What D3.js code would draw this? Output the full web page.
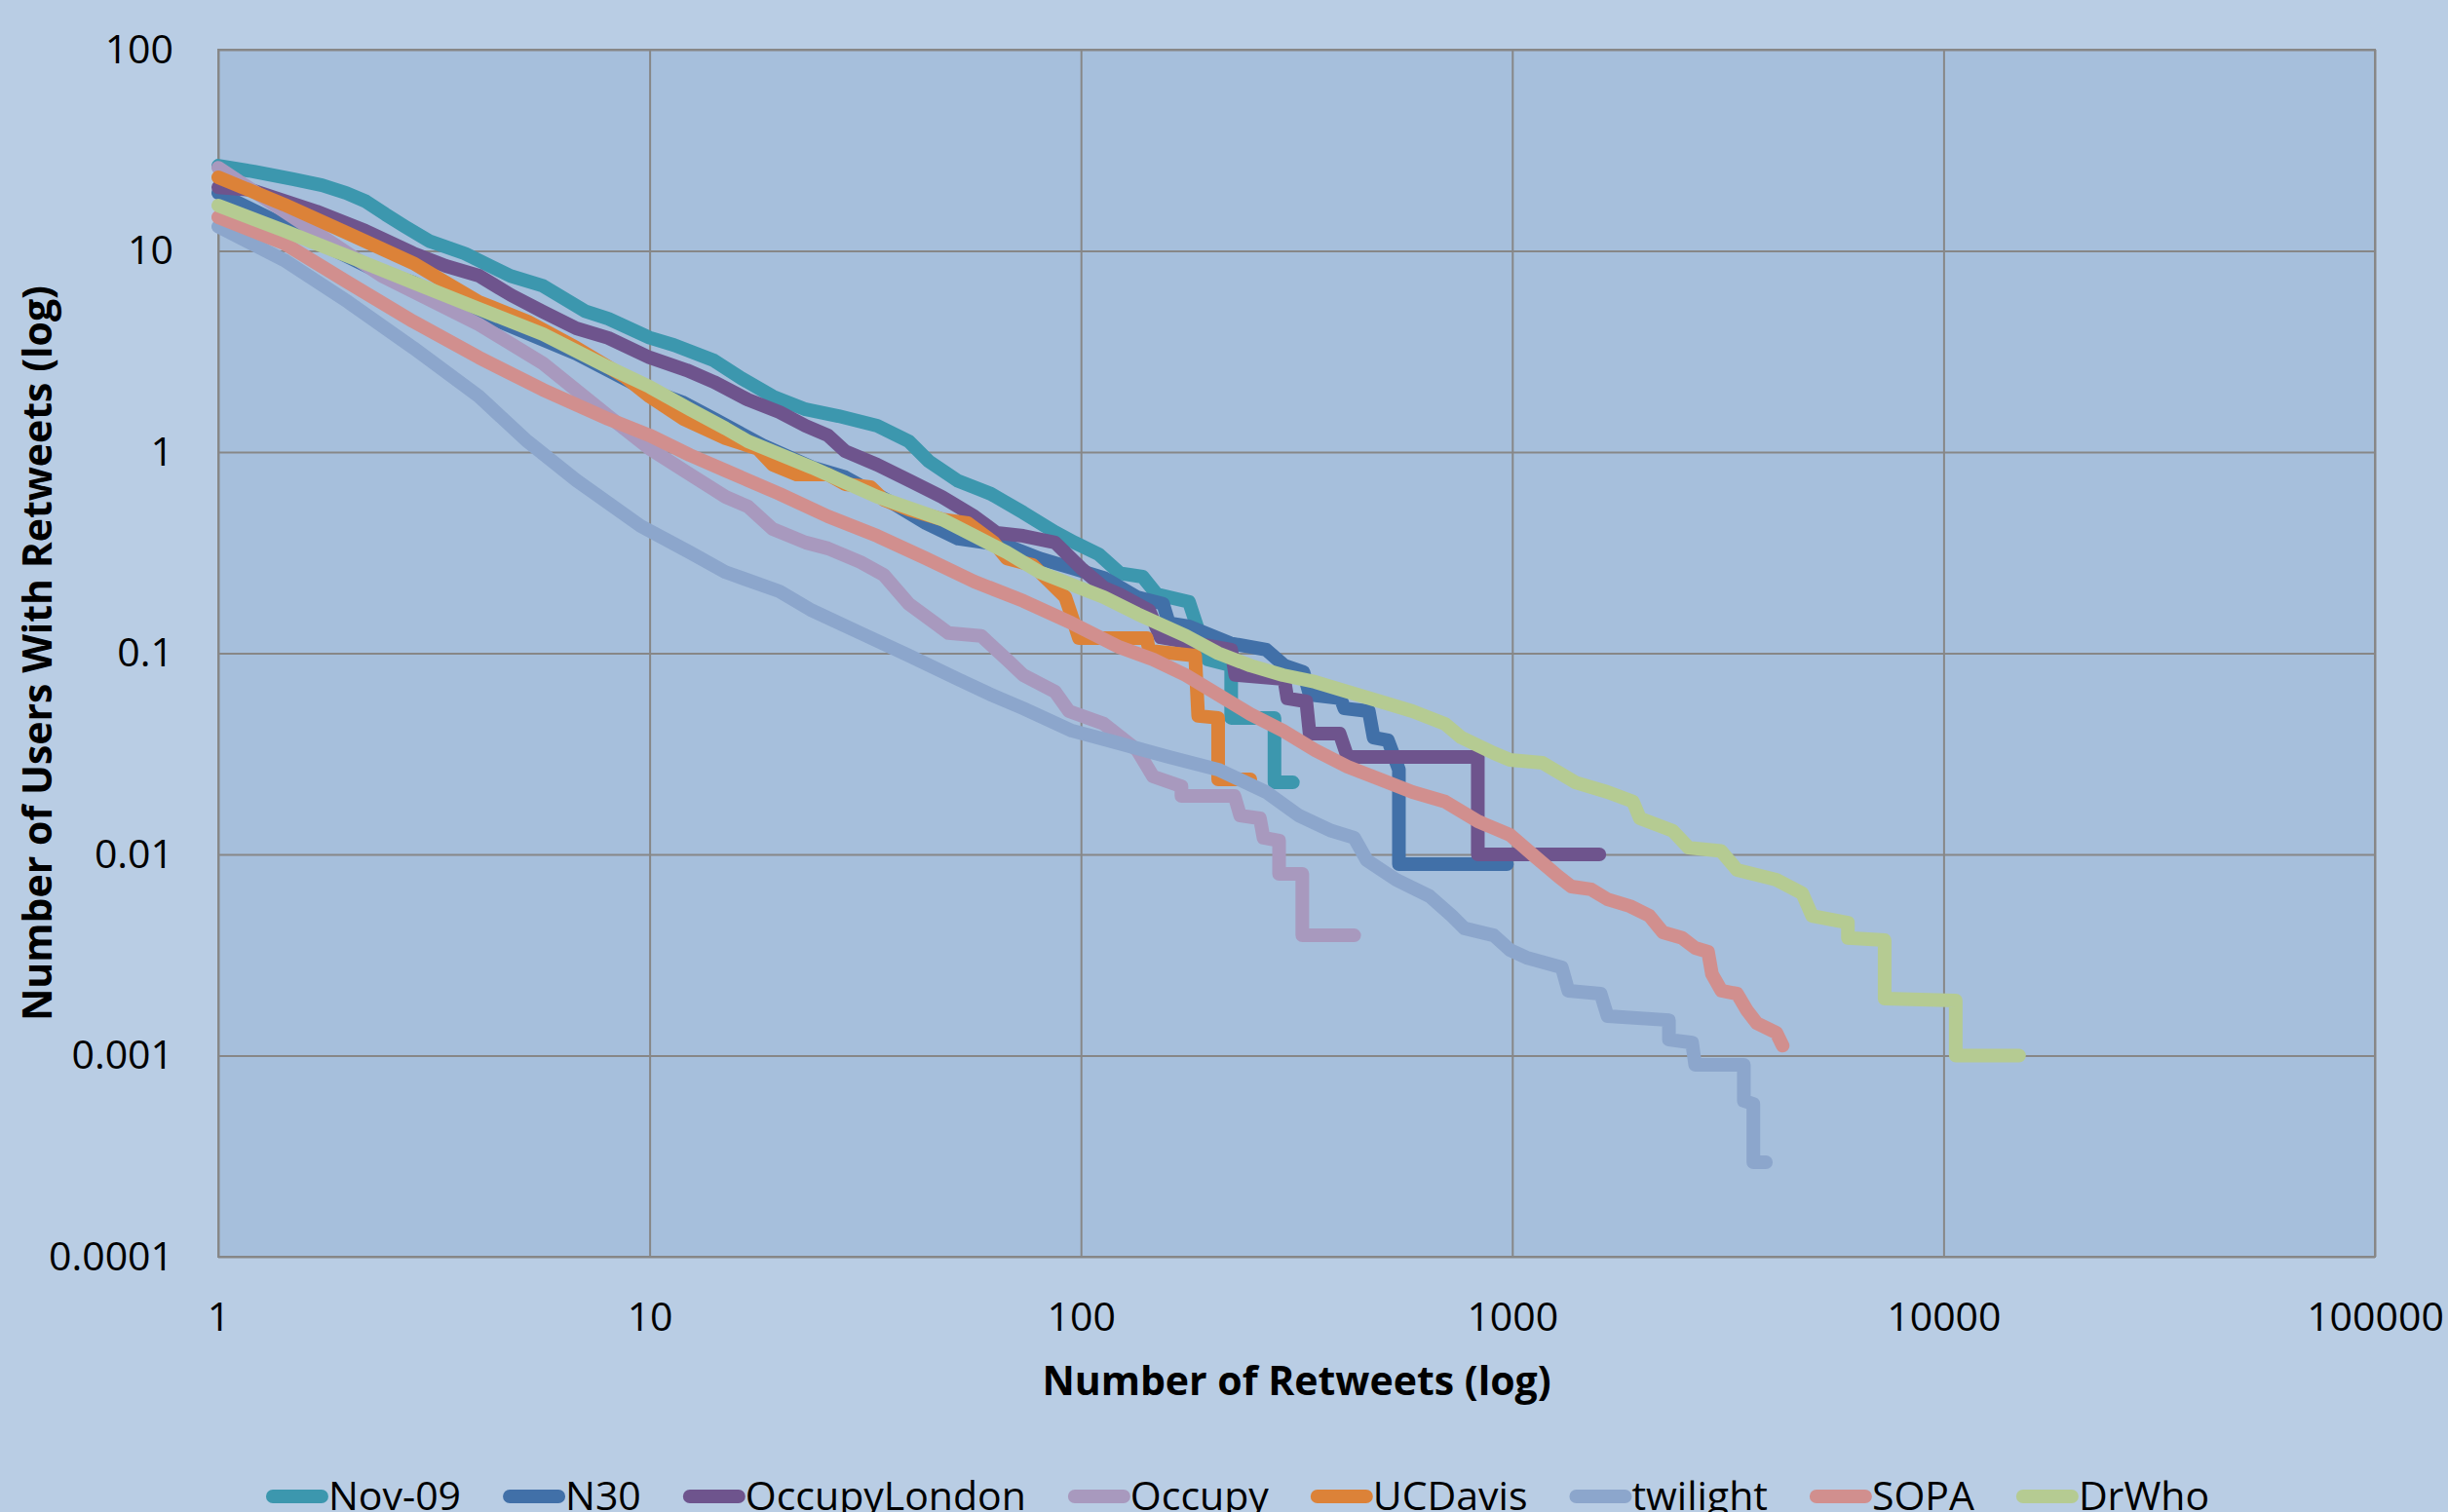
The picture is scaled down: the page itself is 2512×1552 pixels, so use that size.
<!DOCTYPE html>
<html>
<head>
<meta charset="utf-8">
<script src="https://cdnjs.cloudflare.com/ajax/libs/d3/7.8.5/d3.min.js"></script>
<style>
  body { margin: 0; background: #b9cde4; }
  svg text { font-family: "Open Sans", "Liberation Sans", sans-serif; fill: #000; }
</style>
</head>
<body>
<script>

// share of users (%) with at least x retweets
var nov09 = [
    [1, 26.5], [1.21, 24.8], [1.49, 22.7], [1.74, 21.2], [1.98, 19.4], [2.2, 17.6], [2.44, 15.2],
    [2.71, 13.2], [3.08, 11.2], [3.73, 9.7], [4.76, 7.5], [5.66, 6.7], [7.11, 5.0], [8.02, 4.6],
    [10, 3.7], [11.4, 3.4], [14.1, 2.85], [16.3, 2.33], [19.3, 1.89], [23, 1.63], [27.4, 1.51],
    [33.7, 1.35], [39.9, 1.13], [44.4, 0.9], [51.8, 0.72], [61.8, 0.62], [73.5, 0.5], [87.1, 0.4],
    [96.6, 0.355], [110, 0.31], [123, 0.25], [139, 0.24], [150, 0.196], [178, 0.18], [184, 0.145],
    [197, 0.093], [223, 0.087], [223, 0.0477], [281, 0.0477], [281, 0.0228], [310, 0.0228]
];
var n30 = [
    [1, 19.4], [2.3, 8.05], [2.83, 6.97], [3.37, 5.76], [6.76, 3.08], [9.5, 2.11], [11.9, 1.77],
    [14.1, 1.46], [18.3, 1.08], [23.8, 0.84], [28.4, 0.75], [36.8, 0.553], [43.7, 0.443],
    [51.9, 0.371], [67.3, 0.343], [80.2, 0.296], [95.3, 0.265], [113, 0.237], [135, 0.19],
    [155, 0.176], [160, 0.141], [178, 0.136], [222, 0.112], [269, 0.104], [296, 0.0869],
    [328, 0.0805], [339, 0.0623], [400, 0.0596], [408, 0.0532], [465, 0.0515], [477, 0.0381],
    [515, 0.0369], [546, 0.0264], [546, 0.00895], [972, 0.00895]
];
var occupyLondon = [
    [1, 20.7], [1.19, 20.1], [1.69, 15.7], [2.19, 12.6], [2.83, 9.73], [3.37, 8.41], [4.02, 7.53],
    [4.77, 6.03], [5.66, 4.98], [6.76, 4.12], [8.02, 3.69], [10, 2.95], [12.2, 2.55], [14.1, 2.23],
    [16.9, 1.82], [20, 1.58], [23, 1.35], [25.9, 1.21], [28.4, 1.01], [33.7, 0.865], [39.9, 0.724],
    [47.6, 0.599], [56.6, 0.479], [63.8, 0.396], [73.5, 0.383], [87.1, 0.355], [100, 0.265],
    [113, 0.212], [123, 0.196], [144, 0.163], [153, 0.12], [223, 0.104], [228, 0.078],
    [296, 0.0744], [301, 0.0596], [333, 0.0576], [339, 0.0398], [398, 0.0398], [415, 0.0305],
    [832, 0.0305], [832, 0.01], [1592, 0.01]
];
var occupy = [
    [1, 25.9], [2.39, 7.53], [4.02, 4.31], [5.66, 2.76], [8.02, 1.51], [10, 1.04], [12.4, 0.774],
    [15, 0.599], [16.9, 0.536], [19.3, 0.414], [23, 0.355], [25.9, 0.332], [30.8, 0.284],
    [34.9, 0.245], [39.9, 0.176], [45.9, 0.141], [49.3, 0.126], [58.7, 0.122], [67.3, 0.0931],
    [73.5, 0.0778], [87.1, 0.0644], [93.8, 0.0515], [113, 0.0446], [135, 0.033], [147, 0.0244],
    [171, 0.0218], [171, 0.0195], [227, 0.0195], [234, 0.0156], [260, 0.0151], [265, 0.0121],
    [288, 0.0117], [288, 0.008], [326, 0.008], [326, 0.00396], [430, 0.00396]
];
var ucDavis = [
    [1, 23.2], [1.42, 17], [2, 12.2], [2.83, 8.69], [3.37, 6.96], [4.02, 5.57], [5.21, 4.46],
    [6.76, 3.3], [8.77, 2.36], [10, 1.89], [12, 1.46], [15, 1.17], [17.8, 1.04], [19.3, 0.865],
    [21.9, 0.774], [25.9, 0.774], [28.4, 0.692], [32.5, 0.67], [34.9, 0.579], [39.9, 0.518],
    [47.6, 0.463], [54.7, 0.443], [62.8, 0.355], [67.3, 0.296], [77.4, 0.274], [82.8, 0.237],
    [92, 0.19], [95.3, 0.152], [98.9, 0.119], [142, 0.119], [144, 0.103], [184, 0.0973],
    [187, 0.0488], [208, 0.0477], [208, 0.0236], [247, 0.0236]
];
var twilight = [
    [1, 13.2], [1.42, 9], [2, 5.57], [2.83, 3.3], [4.02, 1.89], [5.21, 1.13], [6.76, 0.724],
    [9.53, 0.429], [12.4, 0.317], [15, 0.253], [20, 0.203], [23.8, 0.163], [30.8, 0.126],
    [39.9, 0.0973], [51.8, 0.0744], [61.8, 0.0623], [73.5, 0.0532], [95.3, 0.0412], [123, 0.0356],
    [160, 0.0305], [208, 0.0264], [269, 0.0204], [320, 0.0156], [381, 0.0131], [430, 0.0121],
    [460, 0.00935], [538, 0.00748], [643, 0.0062], [724, 0.00495], [775, 0.00429], [906, 0.00396],
    [988, 0.00335], [1079, 0.00307], [1303, 0.00274], [1349, 0.0021], [1603, 0.00203],
    [1663, 0.00157], [2308, 0.0015], [2308, 0.0012], [2612, 0.00116], [2655, 0.0009],
    [3443, 0.0009], [3443, 0.000596], [3622, 0.000575], [3622, 0.000295], [3873, 0.000295]
];
var sopa = [
    [1, 14.7], [1.42, 10.9], [2, 6.96], [2.83, 4.46], [4.02, 2.95], [5.66, 2.04], [8.02, 1.46],
    [10, 1.21], [12.4, 0.966], [15, 0.809], [20, 0.62], [25.9, 0.479], [33.7, 0.383], [43.7, 0.296],
    [56.6, 0.227], [73.5, 0.182], [95.3, 0.141], [123, 0.107], [147, 0.0931], [175, 0.0778],
    [208, 0.0623], [247, 0.0498], [294, 0.0412], [349, 0.033], [415, 0.0273], [494, 0.0236],
    [587, 0.0204], [698, 0.0183], [832, 0.0146], [988, 0.0125], [1135, 0.00966], [1282, 0.00774],
    [1371, 0.00692], [1524, 0.0067], [1663, 0.00598], [1875, 0.00553], [2080, 0.00495],
    [2234, 0.0041], [2478, 0.00384], [2655, 0.00343], [2844, 0.00328], [2904, 0.00254],
    [3055, 0.0021], [3321, 0.00203], [3499, 0.00168], [3690, 0.00145], [4093, 0.0013],
    [4236, 0.00112]
];
var drWho = [
    [1, 16.8], [1.42, 12.6], [2, 9.4], [2.83, 6.96], [4.02, 5.15], [5.66, 3.85], [8.02, 2.64],
    [10, 2.11], [12.4, 1.63], [15, 1.31], [16.9, 1.13], [23.8, 0.837], [33.7, 0.599], [47.6, 0.463],
    [56.6, 0.383], [67.3, 0.317], [80.2, 0.253], [95.3, 0.219], [113, 0.19], [135, 0.157],
    [175, 0.122], [208, 0.1], [247, 0.0869], [294, 0.0778], [349, 0.072], [415, 0.0644],
    [494, 0.0576], [587, 0.0515], [698, 0.0446], [762, 0.0381], [906, 0.0319], [988, 0.0295],
    [1175, 0.0285], [1400, 0.0228], [1663, 0.0204], [1905, 0.0183], [1977, 0.0151], [2355, 0.0131],
    [2564, 0.0108], [3048, 0.0104], [3321, 0.00837], [4093, 0.00748], [4703, 0.0064],
    [4955, 0.00495], [6000, 0.00458], [6000, 0.00384], [7300, 0.00375], [7300, 0.00192],
    [10670, 0.00188], [10670, 0.001], [14960, 0.001]
];

var seriesNames = ["Nov-09", "N30", "OccupyLondon", "Occupy", "UCDavis", "twilight", "SOPA", "DrWho"];
var seriesValues = [nov09, n30, occupyLondon, occupy, ucDavis, twilight, sopa, drWho];
var seriesColors = ["#3c97ae", "#4170a8", "#6e548d", "#a899be", "#dc8238", "#8ca6cc", "#d18f8e", "#b5cb92"];

var xTicks = [1, 10, 100, 1000, 10000, 100000];
var xTickLabels = ["1", "10", "100", "1000", "10000", "100000"];
var yTicks = [100, 10, 1, 0.1, 0.01, 0.001, 0.0001];
var yTickLabels = ["100", "10", "1", "0.1", "0.01", "0.001", "0.0001"];

/*
* view
*/
var W = 2512, H = 1552;
var margin = { top: 51, left: 224 },
    width = 2213,
    height = 1239;

var svg = d3.select("body").append("svg")
    .attr("width", W)
    .attr("height", H);

svg.append("rect")
    .attr("width", W)
    .attr("height", H)
    .attr("fill", "#b9cde4");

var g = svg.append("g")
    .attr("transform", "translate(" + margin.left + "," + margin.top + ")");

var x = d3.scaleLog().domain([1, 100000]).range([0, width]);
var y = d3.scaleLog().domain([0.0001, 100]).range([height, 0]);

g.append("rect")
    .attr("width", width)
    .attr("height", height)
    .attr("fill", "#a6bfdc");

// axes double as the grid
var xAxis = g.append("g")
    .attr("transform", "translate(0," + height + ")")
    .call(d3.axisBottom(x)
        .tickValues(xTicks)
        .tickFormat(function (d, i) { return xTickLabels[i]; })
        .tickSize(-height)
        .tickPadding(47));

var yAxis = g.append("g")
    .call(d3.axisLeft(y)
        .tickValues(yTicks)
        .tickFormat(function (d, i) { return yTickLabels[i]; })
        .tickSize(-width)
        .tickPadding(46));

[xAxis, yAxis].forEach(function (a) {
    a.attr("font-family", null).attr("font-size", null);
    a.select(".domain").remove();
    a.selectAll(".tick line")
        .attr("stroke", "#878787")
        .attr("stroke-width", 2);
    a.selectAll(".tick text")
        .attr("font-size", 41)
        .attr("fill", "#000");
});

g.append("rect")
    .attr("width", width)
    .attr("height", height)
    .attr("fill", "none")
    .attr("stroke", "#878787")
    .attr("stroke-width", 2);

/*
* series, drawn in legend order so DrWho ends on top
*/
var line = d3.line()
    .x(function (d) { return x(d[0]); })
    .y(function (d) { return y(d[1]); });

g.selectAll(".series")
    .data(seriesValues)
    .enter()
    .append("path")
    .attr("class", "series")
    .attr("d", line)
    .attr("fill", "none")
    .attr("stroke", function (d, i) { return seriesColors[i]; })
    .attr("stroke-width", 14)
    .attr("stroke-linejoin", "round")
    .attr("stroke-linecap", "round");

// axis titles
svg.append("text")
    .attr("x", margin.left + width / 2)
    .attr("y", 1432)
    .attr("text-anchor", "middle")
    .attr("font-size", 41)
    .attr("font-weight", "bold")
    .text("Number of Retweets (log)");

svg.append("text")
    .attr("transform", "translate(53," + (margin.top + height / 2) + ") rotate(-90)")
    .attr("text-anchor", "middle")
    .attr("font-size", 41)
    .attr("font-weight", "bold")
    .text("Number of Users With Retweets (log)");

/*
* legend along the bottom edge
*/
var legend = svg.append("g");
var items = legend.selectAll(".item")
    .data(seriesNames)
    .enter()
    .append("g")
    .attr("class", "item");

items.append("line")
    .attr("x1", 7)
    .attr("x2", 57)
    .attr("y1", 1536)
    .attr("y2", 1536)
    .attr("stroke", function (d, i) { return seriesColors[i]; })
    .attr("stroke-width", 14)
    .attr("stroke-linecap", "round");

items.append("text")
    .attr("x", 64)
    .attr("y", 1550)
    .attr("font-size", 41)
    .text(function (d) { return d; });

var pos = 0;
items.each(function () {
    var w = d3.select(this).select("text").node().getComputedTextLength();
    d3.select(this).attr("transform", "translate(" + pos + ",0)");
    pos += 64 + w + 43;
});
pos -= 43;
legend.attr("transform", "translate(" + (1270 - pos / 2) + ",0)");

</script>
</body>
</html>
